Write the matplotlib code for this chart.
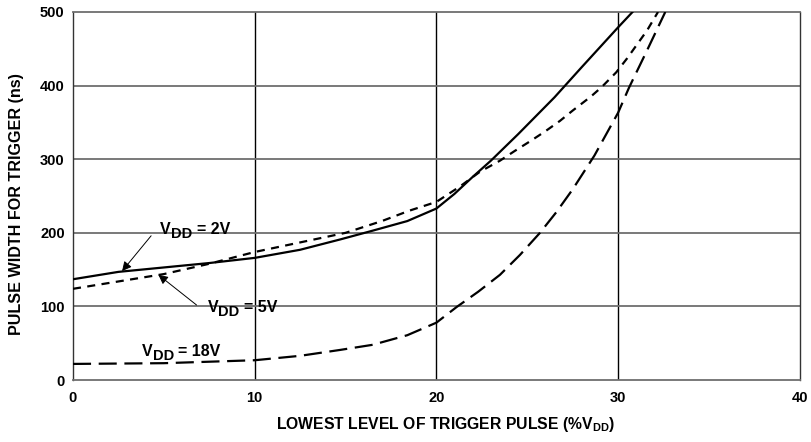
import matplotlib
matplotlib.use("Agg")
import matplotlib.pyplot as plt

plt.rcParams["font.family"] = ["Liberation Sans", "DejaVu Sans"]
plt.rcParams["font.weight"] = "bold"
plt.rcParams["axes.labelweight"] = "bold"
plt.rcParams["mathtext.fontset"] = "custom"
plt.rcParams["mathtext.rm"] = "Liberation Sans:bold"
plt.rcParams["mathtext.bf"] = "Liberation Sans:bold"
plt.rcParams["mathtext.it"] = "Liberation Sans:bold"
plt.rcParams["lines.scale_dashes"] = False

# VDD = 2V (solid)
x_2v = [0, 2.5, 5, 7.5, 10, 12.5, 14.7, 16.5, 18.4, 20, 21, 22, 23, 24.5, 26.5, 28, 30, 30.8]
y_2v = [137, 147, 153, 159, 166, 177, 191, 203, 216, 233, 253, 276, 298, 334, 384, 425, 479, 500]

# VDD = 5V (short dash)
x_5v = [0, 2.5, 5, 7.5, 10, 12.5, 15, 17, 18.5, 20, 21.3, 22.4, 23.5, 24.3, 25.2, 26,
        26.8, 27.5, 28.5, 29.1, 29.9, 30.5, 31.6, 32.2]
y_5v = [124, 134, 144, 158, 174, 187, 200, 216, 230, 242, 263, 283, 298, 311, 325, 338,
        352, 366, 385, 398, 418, 437, 475, 500]

# VDD = 18V (long dash)
x_18v = [0, 5, 10, 12.5, 14.7, 16.5, 18.4, 20, 21.1, 22.3, 23.5, 24.6, 25.7, 26.6, 27.5,
         28.7, 30, 30.6, 31.6, 32.6]
y_18v = [22, 23, 27, 33, 41, 48, 61, 78, 99, 120, 143, 170, 200, 228, 259, 305, 363,
         397, 448, 500]

x_ticks = [0, 10, 20, 30, 40]
y_ticks = [0, 100, 200, 300, 400, 500]

fig = plt.figure(figsize=(8.12, 4.42), dpi=100)
ax = fig.add_axes([0.0899, 0.140, 0.895, 0.833])

ax.set_xlim(0, 40)
ax.set_ylim(0, 500)
ax.set_xticks(x_ticks)
ax.set_yticks(y_ticks)
ax.tick_params(length=0, labelsize=10.5)
ax.tick_params(axis="x", pad=8)
ax.tick_params(axis="y", pad=6)

for x in x_ticks[1:-1]:
    ax.axvline(x, color="black", lw=1.0, zorder=1)
for y in y_ticks[1:-1]:
    ax.axhline(y, color="#6e6e6e", lw=1.3, zorder=1)
for side in ["top", "bottom"]:
    ax.spines[side].set_color("#6e6e6e")
    ax.spines[side].set_linewidth(1.3)
for side in ["left", "right"]:
    ax.spines[side].set_color("#333333")
    ax.spines[side].set_linewidth(1.0)

ax.plot(x_2v, y_2v, color="black", lw=1.6, zorder=3)
ax.plot(x_5v, y_5v, color="black", lw=1.6, dashes=(5.8, 4.6), zorder=3)
ax.plot(x_18v, y_18v, color="black", lw=1.6, dashes=(13, 5.5), zorder=3)


def vdd_label(x, y, rest):
    # "V" with a lowered "DD" and the rest on the V baseline
    tv = ax.text(x, y, "V", fontsize=11.5, ha="left", va="baseline", zorder=4)
    tdd = ax.annotate("DD", xy=(1, 0), xycoords=tv, xytext=(0.3, -3.2),
                      textcoords="offset points", fontsize=10.5, ha="left", va="bottom", zorder=4)
    ax.annotate(rest, xy=(1, 0), xycoords=(tdd, tv), xytext=(3, 0),
                textcoords="offset points", fontsize=11.5, ha="left", va="bottom", zorder=4)


arrow = dict(arrowstyle="-|>", color="black", lw=0.7, mutation_scale=14, shrinkA=0, shrinkB=0)

vdd_label(4.8, 199, "= 2V")
ax.annotate("", xy=(2.7, 148), xytext=(4.3, 196), arrowprops=arrow)
vdd_label(7.4, 93, "= 5V")
ax.annotate("", xy=(4.7, 143), xytext=(6.8, 102), arrowprops=arrow)
vdd_label(3.8, 33, "= 18V")

ax.set_xlabel(r"LOWEST LEVEL OF TRIGGER PULSE (%V$_{\mathbf{DD}}$)", fontsize=11.3)
ax.set_ylabel("PULSE WIDTH FOR TRIGGER (ns)", fontsize=11.6)
ax.xaxis.set_label_coords(0.512, -0.096)
ax.yaxis.set_label_coords(-0.068, 0.478)

fig.savefig("out.png", dpi=100)
